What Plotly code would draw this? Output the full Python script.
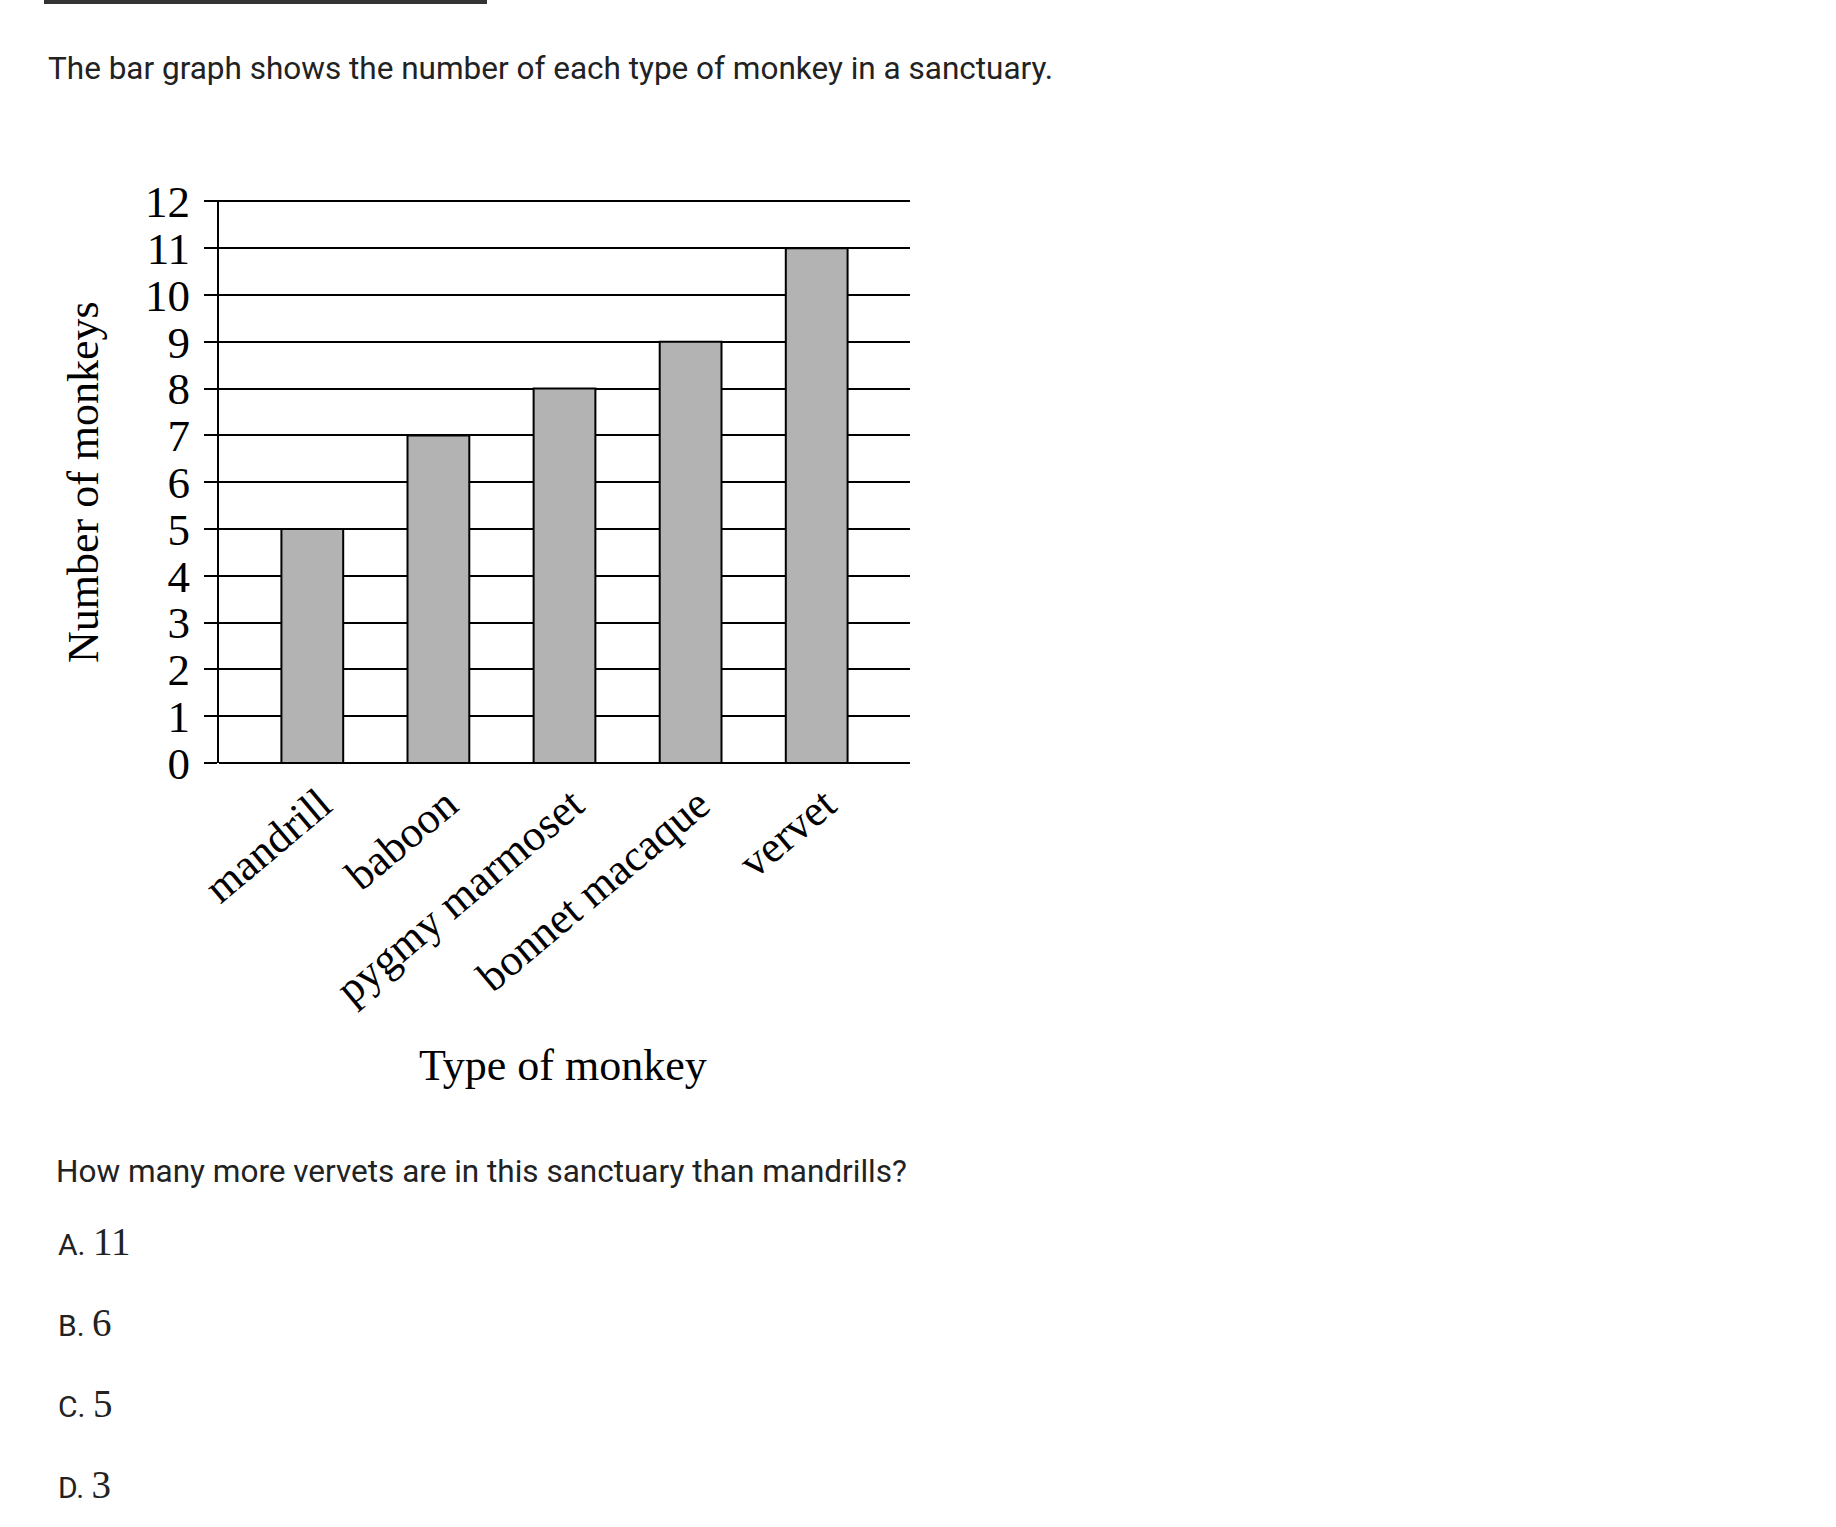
import plotly.graph_objects as go

# ---- data ----
categories = ["mandrill", "baboon", "pygmy marmoset", "bonnet macaque", "vervet"]
counts = [5, 7, 8, 9, 11]
y_ticks = list(range(0, 13))

title_text = "The bar graph shows the number of each type of monkey in a sanctuary."
question_text = "How many more vervets are in this sanctuary than mandrills?"
option_letters = ["A.", "B.", "C.", "D."]
option_values = ["11", "6", "5", "3"]

W, H = 1836, 1527
SERIF = "Liberation Serif"
SANS = "Roboto"

def px(x):
    return x / W

def py(y):
    return 1 - y / H

fig = go.Figure()
fig.add_trace(go.Bar(
    x=list(range(len(categories))),
    y=counts,
    width=0.49,
    marker=dict(color="#b3b3b3", line=dict(color="black", width=2)),
    hoverinfo="skip",
))

fig.update_layout(
    width=W, height=H,
    margin=dict(l=0, r=0, t=0, b=0),
    paper_bgcolor="white", plot_bgcolor="white",
    showlegend=False,
)

fig.update_xaxes(
    domain=[px(219), px(910)],
    range=[-0.74, 4.74],
    tickmode="array",
    tickvals=list(range(len(categories))),
    ticktext=categories,
    tickangle=-40,
    tickfont=dict(family=SERIF, size=44, color="black"),
    ticks="",
    showgrid=False,
    showline=False,
    zeroline=False,
    automargin=False,
    ticklabelstandoff=6,
    ticklabelshift=8,
)

fig.update_yaxes(
    domain=[py(763), py(200)],
    range=[0, 12.03],
    tickmode="array",
    tickvals=y_ticks,
    ticktext=[str(v) for v in y_ticks],
    tickfont=dict(family=SERIF, size=45, color="black"),
    ticks="outside", ticklen=13, tickwidth=2, tickcolor="black",
    showgrid=True, gridcolor="black", gridwidth=2,
    showline=True, linecolor="black", linewidth=2,
    zeroline=True, zerolinecolor="black", zerolinewidth=2,
    automargin=False,
    ticklabelstandoff=5,
)

annotations = [
    dict(text=title_text, x=px(46), y=py(68), xref="paper", yref="paper",
         xanchor="left", yanchor="middle", showarrow=False,
         font=dict(family=SANS, size=31.5, color="#222222")),
    dict(text="Number of monkeys", x=px(84), y=py(482), xref="paper", yref="paper",
         xanchor="center", yanchor="middle", showarrow=False, textangle=-90,
         font=dict(family=SERIF, size=44, color="black")),
    dict(text="Type of monkey", x=px(563), y=py(1065), xref="paper", yref="paper",
         xanchor="center", yanchor="middle", showarrow=False,
         font=dict(family=SERIF, size=44, color="black")),
    dict(text=question_text, x=px(54), y=py(1171), xref="paper", yref="paper",
         xanchor="left", yanchor="middle", showarrow=False,
         font=dict(family=SANS, size=31.5, color="#222222")),
]

option_y = [1241, 1322, 1403, 1484]
for letter, val, yy in zip(option_letters, option_values, option_y):
    annotations.append(dict(
        text=f"{letter} <span style='font-family:{SERIF};font-size:39px'>{val}</span>",
        x=px(56), y=py(yy), xref="paper", yref="paper",
        xanchor="left", yanchor="middle", showarrow=False,
        font=dict(family=SANS, size=30, color="#222222")))

fig.update_layout(annotations=annotations)

fig.add_shape(type="rect", xref="paper", yref="paper",
              x0=px(44), x1=px(487), y0=py(4), y1=py(0),
              fillcolor="#333333", line=dict(width=0))

fig.write_html("out.html")
